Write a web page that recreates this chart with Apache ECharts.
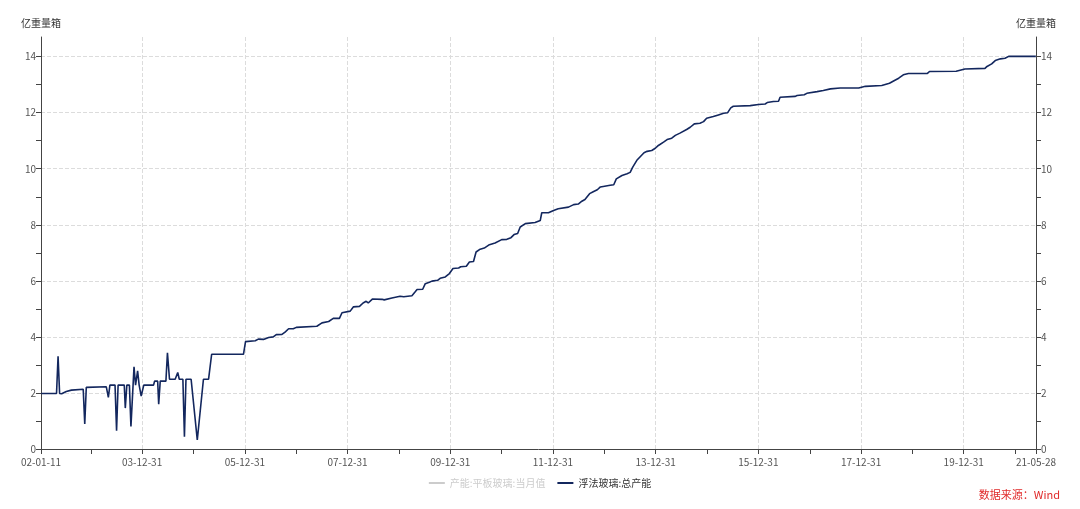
<!DOCTYPE html>
<html>
<head>
<meta charset="utf-8">
<script src="https://cdn.jsdelivr.net/npm/echarts@6/dist/echarts.min.js"></script>
<style>html,body{margin:0;padding:0;background:#fff;}#c{width:1080px;height:509px;}</style>
</head>
<body>
<div id="c"></div>
<script>
// Decimal-year positions of the data points
const years = [
  2002.03, 2002.33, 2002.36, 2002.39, 2002.43, 2002.46, 2002.52, 2002.62, 2002.65, 2002.85,
  2002.88, 2002.91, 2003.30, 2003.34, 2003.37, 2003.47, 2003.50, 2003.53, 2003.65, 2003.67,
  2003.70, 2003.75, 2003.78, 2003.84, 2003.87, 2003.91, 2003.94, 2003.98, 2004.03, 2004.22,
  2004.24, 2004.30, 2004.32, 2004.35, 2004.46, 2004.49, 2004.53, 2004.64, 2004.69, 2004.72,
  2004.79, 2004.82, 2004.85, 2004.95, 2005.07, 2005.19, 2005.29, 2005.35, 2005.97, 2006.01,
  2006.20, 2006.26, 2006.36, 2006.46, 2006.55, 2006.61, 2006.72, 2006.78, 2006.85, 2006.94,
  2007.00, 2007.40, 2007.50, 2007.63, 2007.72, 2007.84, 2007.89, 2008.05, 2008.11, 2008.23,
  2008.30, 2008.36, 2008.40, 2008.48, 2008.67, 2008.71, 2008.86, 2009.02, 2009.09, 2009.25,
  2009.31, 2009.35, 2009.46, 2009.51, 2009.59, 2009.64, 2009.75, 2009.80, 2009.90, 2009.98,
  2010.05, 2010.16, 2010.20, 2010.31, 2010.37, 2010.45, 2010.50, 2010.58, 2010.66, 2010.76,
  2010.87, 2011.00, 2011.10, 2011.18, 2011.24, 2011.31, 2011.36, 2011.46, 2011.65, 2011.75,
  2011.78, 2011.91, 2012.01, 2012.10, 2012.30, 2012.40, 2012.49, 2012.56, 2012.62, 2012.71,
  2012.79, 2012.86, 2012.92, 2013.11, 2013.18, 2013.23, 2013.34, 2013.44, 2013.50, 2013.55,
  2013.63, 2013.77, 2013.83, 2013.92,
  2013.99, 2014.05, 2014.15, 2014.22, 2014.31, 2014.38, 2014.47, 2014.60, 2014.67, 2014.75,
  2014.86, 2014.93, 2014.99, 2015.12, 2015.22, 2015.32, 2015.40, 2015.46, 2015.51, 2015.84,
  2015.87, 2016.00, 2016.03, 2016.13, 2016.17, 2016.29, 2016.39, 2016.42, 2016.71, 2016.75,
  2016.89, 2016.94, 2017.14, 2017.26, 2017.40, 2017.59,
  2017.95, 2017.98, 2018.08, 2018.40, 2018.43, 2018.55, 2018.63, 2018.73, 2018.82, 2018.92,
  2019.29, 2019.33, 2019.85, 2019.87, 2020.02, 2020.41, 2020.45, 2020.54, 2020.61, 2020.71,
  2020.80, 2020.87, 2021.40
];
// 浮法玻璃:总产能 (亿重量箱)
const capacity = [
  1.98, 1.98, 3.31, 1.98, 1.97, 2.0, 2.05, 2.1, 2.13, 2.13,
  0.89, 2.2, 2.22, 1.84, 2.28, 2.28, 0.65, 2.28, 2.28, 1.46,
  2.28, 2.28, 0.8, 2.93, 2.28, 2.79, 2.28, 1.89, 2.28, 2.28,
  2.42, 2.42, 1.6, 2.42, 2.42, 3.43, 2.49, 2.49, 2.73, 2.49,
  2.49, 0.44, 2.49, 2.49, 0.32, 2.49, 2.49, 3.38, 3.38, 3.83,
  3.86, 3.92, 3.91, 3.98, 4.0, 4.08, 4.09, 4.17, 4.29, 4.29,
  4.34, 4.38, 4.5, 4.55, 4.66, 4.66, 4.86, 4.92, 5.07, 5.09,
  5.21, 5.27, 5.21, 5.35, 5.34, 5.32, 5.39, 5.45, 5.43, 5.47,
  5.6, 5.69, 5.7, 5.9, 5.95, 5.99, 6.02, 6.09, 6.14, 6.26,
  6.44, 6.46, 6.5, 6.52, 6.67, 6.69, 7.03, 7.13, 7.17, 7.29,
  7.35, 7.47, 7.48, 7.54, 7.65, 7.69, 7.92, 8.04, 8.08, 8.15,
  8.43, 8.43, 8.51, 8.57, 8.63, 8.72, 8.74, 8.84, 8.9, 9.11,
  9.19, 9.25, 9.35, 9.41, 9.43, 9.64, 9.76, 9.82, 9.87, 10.06,
  10.3, 10.57, 10.62, 10.65,
  10.73, 10.83, 10.95, 11.04, 11.09, 11.19, 11.27, 11.4, 11.48, 11.6,
  11.62, 11.68, 11.8, 11.86, 11.92, 11.98, 12.0, 12.17, 12.23, 12.25,
  12.29, 12.29, 12.31, 12.31, 12.36, 12.4, 12.41, 12.55, 12.58, 12.61,
  12.64, 12.69, 12.75, 12.79, 12.85, 12.88,
  12.88, 12.92, 12.94, 12.97, 13.01, 13.05, 13.13, 13.23, 13.35, 13.4,
  13.4, 13.47, 13.48, 13.54, 13.56, 13.58, 13.65, 13.74, 13.86, 13.92,
  13.94, 14.01, 14.01
];
const labelDates = ['2002-01-11','2003-12-31','2005-12-31','2007-12-31','2009-12-31','2011-12-31',
  '2013-12-31','2015-12-31','2017-12-31','2019-12-31','2021-05-28'];
const tickDates = ['2002-01-11','2002-12-31','2003-12-31','2004-12-31','2005-12-31','2006-12-31',
  '2007-12-31','2008-12-31','2009-12-31','2010-12-31','2011-12-31','2012-12-31','2013-12-31',
  '2014-12-31','2015-12-31','2016-12-31','2017-12-31','2018-12-31','2019-12-31','2020-12-31','2021-05-28'];
const gridDates = ['2003-12-31','2005-12-31','2007-12-31','2009-12-31','2011-12-31',
  '2013-12-31','2015-12-31','2017-12-31','2019-12-31'];
const yTickValues = [0, 1, 2, 3, 4, 5, 6, 7, 8, 9, 10, 11, 12, 13, 14];
const yLabelValues = [0, 2, 4, 6, 8, 10, 12, 14];
const yGridValues = [2, 4, 6, 8, 10, 12, 14];
const seriesNames = ['产能:平板玻璃:当月值', '浮法玻璃:总产能'];

function dateToTime(s) {
  const p = s.split('-').map(Number);
  return new Date(p[0], p[1] - 1, p[2]).getTime();
}
function yearToTime(y) {
  const yr = Math.floor(y);
  const start = new Date(yr, 0, 1).getTime();
  const end = new Date(yr + 1, 0, 1).getTime();
  return start + (y - yr) * (end - start);
}
const lineData = years.map((y, i) => [yearToTime(y), capacity[i]]);
const xMin = dateToTime(labelDates[0]);
const xMax = dateToTime(labelDates[labelDates.length - 1]);

function fmt(v) {
  const d = new Date(v);
  const p = n => (n < 10 ? '0' : '') + n;
  return p(d.getFullYear() % 100) + '-' + p(d.getMonth() + 1) + '-' + p(d.getDate());
}

const FONT = '"Noto Sans CJK SC", "Noto Sans", sans-serif';
const axisColor = '#444';
const gridLine = { color: '#dcdcdc', type: 'dashed', width: 1 };
const yCommon = {
  type: 'value', min: 0, max: 14.7,
  name: '亿重量箱', nameLocation: 'end', nameGap: 9,
  nameTextStyle: { color: '#333', fontSize: 10, fontFamily: FONT },
  axisLine: { show: true, lineStyle: { color: axisColor } },
  axisTick: { show: true, length: 5, customValues: yTickValues, lineStyle: { color: axisColor } },
  axisLabel: { customValues: yLabelValues, color: '#555', fontSize: 10, fontFamily: FONT, margin: 5 },
  splitLine: { show: false }
};

const chart = echarts.init(document.getElementById('c'));
chart.setOption({
  animation: false,
  backgroundColor: '#fff',
  title: {
    text: '数据来源：Wind', right: 20, top: 489, padding: 0,
    textStyle: { color: '#e02a2a', fontSize: 11, fontWeight: 'normal', fontFamily: FONT }
  },
  legend: {
    top: 478, left: 'center', icon: 'rect', itemWidth: 16, itemHeight: 2, itemGap: 12,
    padding: 0, inactiveColor: '#ccc',
    textStyle: { color: '#333', fontSize: 10, fontFamily: FONT },
    data: seriesNames,
    selected: { '产能:平板玻璃:当月值': false }
  },
  grid: { left: 41, right: 44, top: 37, bottom: 60, containLabel: false },
  xAxis: [{
    type: 'value', position: 'bottom', min: xMin, max: xMax,
    axisLine: { show: true, onZero: false, lineStyle: { color: axisColor } },
    axisTick: { show: true, length: 5, customValues: tickDates.map(dateToTime), lineStyle: { color: axisColor } },
    axisLabel: { customValues: labelDates.map(dateToTime), formatter: fmt, color: '#555', fontSize: 10, fontFamily: FONT, margin: 8 },
    splitLine: { show: false }
  }, {
    type: 'value', position: 'bottom', min: xMin, max: xMax,
    axisLine: { show: false, onZero: false },
    axisTick: { show: false, customValues: gridDates.map(dateToTime) },
    axisLabel: { show: false },
    splitLine: { show: true, lineStyle: gridLine }
  }],
  yAxis: [
    Object.assign({}, yCommon, { position: 'left' }),
    Object.assign({}, yCommon, { position: 'right' }),
    {
      type: 'value', position: 'left', min: 0, max: 14.7,
      axisLine: { show: false, onZero: false },
      axisTick: { show: false, customValues: yGridValues },
      axisLabel: { show: false },
      splitLine: { show: true, lineStyle: gridLine }
    }
  ],
  series: [{
    name: seriesNames[0], type: 'line', data: [], showSymbol: false,
    itemStyle: { color: '#b0b0b0' }, lineStyle: { color: '#b0b0b0' }
  }, {
    name: seriesNames[1], type: 'line', xAxisIndex: 0, yAxisIndex: 0,
    data: lineData, showSymbol: false, symbol: 'none',
    itemStyle: { color: '#13275e' },
    lineStyle: { color: '#13275e', width: 1.6 }
  }]
});
</script>
</body>
</html>
